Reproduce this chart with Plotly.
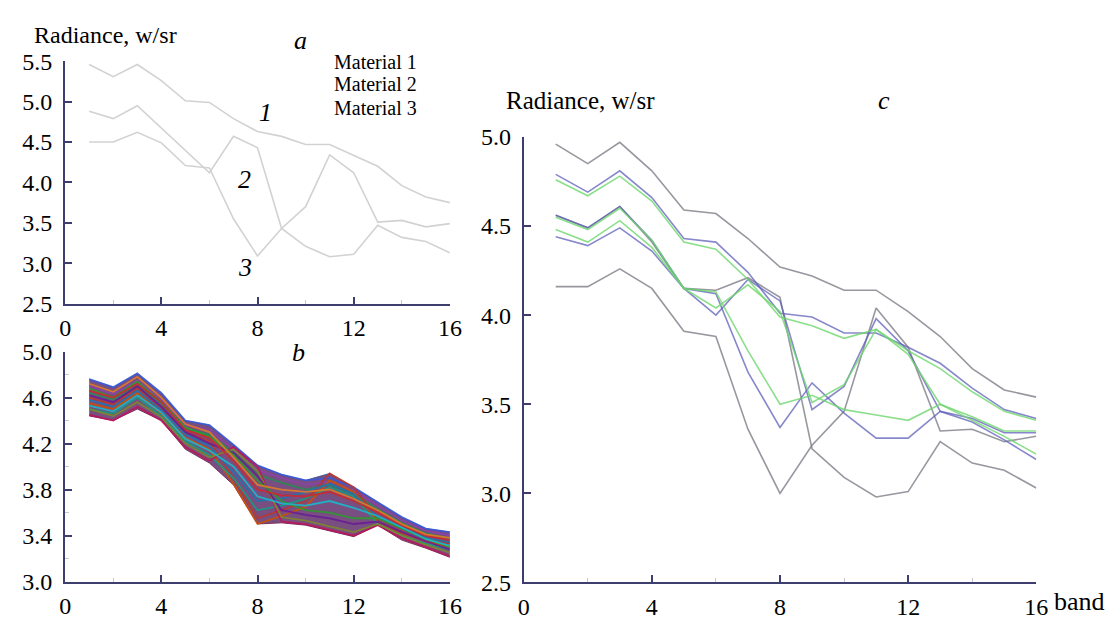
import plotly.graph_objects as go

# ---------------- data ----------------
bands = list(range(1, 17))
x_ticks = [0, 4, 8, 12, 16]
x_minor = [2, 6, 10, 14]
a_yticks = [2.5, 3.0, 3.5, 4.0, 4.5, 5.0, 5.5]
b_yticks = [3.0, 3.4, 3.8, 4.2, 4.6, 5.0]
b_yminor = [3.2, 3.6, 4.0, 4.4, 4.8]
c_yticks = [2.5, 3.0, 3.5, 4.0, 4.5, 5.0]

# panel a: three material spectra
a_material_1 = [5.46, 5.31, 5.46, 5.26, 5.01, 4.99, 4.79, 4.63, 4.57, 4.47, 4.47, 4.34, 4.20, 3.96, 3.82, 3.75]
a_material_2 = [4.88, 4.79, 4.95, 4.67, 4.39, 4.12, 4.57, 4.43, 3.43, 3.21, 3.08, 3.11, 3.47, 3.32, 3.27, 3.13]
a_material_3 = [4.50, 4.50, 4.62, 4.49, 4.21, 4.18, 3.55, 3.09, 3.43, 3.70, 4.34, 4.12, 3.51, 3.53, 3.45, 3.49]

# panel b: envelope of the pixel spectra and a set of individual spectra
b_upper = [4.76, 4.69, 4.81, 4.64, 4.40, 4.36, 4.19, 4.01, 3.93, 3.88, 3.94, 3.82, 3.69, 3.56, 3.46, 3.43]
b_lower = [4.44, 4.40, 4.50, 4.40, 4.15, 4.03, 3.84, 3.50, 3.51, 3.49, 3.44, 3.39, 3.49, 3.36, 3.29, 3.21]
b_spec_01 = [4.76, 4.69, 4.81, 4.64, 4.40, 4.36, 4.19, 4.01, 3.93, 3.88, 3.90, 3.82, 3.69, 3.56, 3.46, 3.43]
b_spec_02 = [4.70, 4.63, 4.75, 4.58, 4.36, 4.32, 4.15, 3.97, 3.90, 3.84, 3.87, 3.79, 3.66, 3.53, 3.44, 3.40]
b_spec_03 = [4.64, 4.58, 4.70, 4.55, 4.33, 4.28, 4.12, 3.93, 3.86, 3.80, 3.84, 3.76, 3.63, 3.51, 3.42, 3.37]
b_spec_04 = [4.60, 4.54, 4.68, 4.50, 4.30, 4.22, 3.90, 3.55, 3.62, 3.70, 3.94, 3.82, 3.55, 3.45, 3.38, 3.33]
b_spec_05 = [4.55, 4.50, 4.64, 4.46, 4.25, 4.15, 3.85, 3.50, 3.57, 3.65, 3.88, 3.78, 3.52, 3.42, 3.35, 3.30]
b_spec_06 = [4.50, 4.46, 4.60, 4.44, 4.22, 4.10, 3.90, 3.62, 3.66, 3.72, 3.82, 3.74, 3.50, 3.40, 3.33, 3.28]
b_spec_07 = [4.58, 4.52, 4.66, 4.49, 4.28, 4.18, 3.95, 3.70, 3.72, 3.78, 3.85, 3.76, 3.56, 3.46, 3.38, 3.34]
b_spec_08 = [4.45, 4.40, 4.52, 4.40, 4.17, 4.05, 4.17, 4.00, 3.52, 3.50, 3.45, 3.40, 3.49, 3.38, 3.30, 3.22]
b_spec_09 = [4.50, 4.44, 4.56, 4.43, 4.20, 4.08, 4.15, 3.96, 3.56, 3.53, 3.48, 3.43, 3.50, 3.40, 3.32, 3.25]
b_spec_10 = [4.62, 4.56, 4.70, 4.52, 4.30, 4.20, 4.12, 3.92, 3.62, 3.58, 3.55, 3.50, 3.52, 3.43, 3.35, 3.28]
b_spec_11 = [4.68, 4.60, 4.74, 4.56, 4.34, 4.26, 4.10, 3.88, 3.70, 3.62, 3.60, 3.55, 3.55, 3.46, 3.37, 3.30]
b_spec_12 = [4.66, 4.60, 4.72, 4.56, 4.32, 4.25, 4.05, 3.80, 3.75, 3.74, 3.78, 3.70, 3.60, 3.49, 3.40, 3.36]
b_spec_13 = [4.53, 4.48, 4.62, 4.47, 4.24, 4.14, 4.00, 3.74, 3.68, 3.66, 3.70, 3.64, 3.57, 3.47, 3.37, 3.31]
b_spec_14 = [4.72, 4.65, 4.78, 4.60, 4.37, 4.30, 4.08, 3.84, 3.80, 3.78, 3.80, 3.72, 3.62, 3.50, 3.41, 3.38]

# panel c: reference spectra (gray) and estimated spectra (blue, green)
c_gray_1 = [4.96, 4.85, 4.97, 4.81, 4.59, 4.57, 4.43, 4.27, 4.22, 4.14, 4.14, 4.02, 3.88, 3.70, 3.58, 3.54]
c_blue_1 = [4.79, 4.69, 4.81, 4.66, 4.43, 4.41, 4.24, 4.01, 3.99, 3.90, 3.90, 3.82, 3.73, 3.59, 3.47, 3.42]
c_green_1 = [4.76, 4.67, 4.78, 4.64, 4.41, 4.37, 4.20, 3.99, 3.94, 3.87, 3.92, 3.80, 3.70, 3.57, 3.46, 3.41]
c_gray_2 = [4.16, 4.16, 4.26, 4.15, 3.91, 3.88, 3.36, 3.00, 3.27, 3.46, 4.04, 3.82, 3.35, 3.36, 3.29, 3.32]
c_blue_2 = [4.44, 4.39, 4.49, 4.36, 4.15, 4.00, 4.20, 4.08, 3.47, 3.60, 3.98, 3.80, 3.46, 3.42, 3.34, 3.34]
c_green_2 = [4.48, 4.41, 4.53, 4.38, 4.15, 4.04, 4.17, 4.02, 3.51, 3.61, 3.92, 3.78, 3.50, 3.43, 3.35, 3.35]
c_gray_3 = [4.56, 4.49, 4.61, 4.41, 4.15, 4.14, 4.21, 4.10, 3.25, 3.09, 2.98, 3.01, 3.29, 3.17, 3.13, 3.03]
c_blue_3 = [4.56, 4.49, 4.61, 4.42, 4.15, 4.12, 3.68, 3.37, 3.62, 3.45, 3.31, 3.31, 3.46, 3.40, 3.30, 3.19]
c_green_3 = [4.55, 4.48, 4.60, 4.42, 4.15, 4.13, 3.80, 3.50, 3.55, 3.47, 3.44, 3.41, 3.50, 3.41, 3.32, 3.22]

# ---------------- figure ----------------
W, H = 1120, 621
FONT = "Liberation Serif, Times New Roman, DejaVu Serif, serif"
AX = "#3d3d6e"


def px(x):
    return x / W


def py(y):
    return 1 - y / H


fig = go.Figure()

# panel a
for s in [a_material_1, a_material_2, a_material_3]:
    fig.add_trace(go.Scatter(x=bands, y=s, mode="lines", xaxis="x", yaxis="y",
                             line=dict(color="#d2d2d2", width=1.6), hoverinfo="skip"))

# panel b
fig.add_trace(go.Scatter(x=bands, y=b_lower, mode="lines", xaxis="x2", yaxis="y2",
                         line=dict(color="rgba(120,40,80,0.9)", width=1), hoverinfo="skip"))
fig.add_trace(go.Scatter(x=bands, y=b_upper, mode="lines", xaxis="x2", yaxis="y2", fill="tonexty",
                         fillcolor="rgba(105,60,115,0.9)",
                         line=dict(color="rgba(60,90,150,0.9)", width=1), hoverinfo="skip"))
b_colors = ["#3b5bdb", "#8e44ad", "#2e8b57", "#c0392b", "#d35400", "#16a085", "#1f77b4",
            "#c2185b", "#7f8c2d", "#6a1b9a", "#2ca02c", "#d62728", "#17becf", "#e67e22"]
b_specs = [b_spec_01, b_spec_02, b_spec_03, b_spec_04, b_spec_05, b_spec_06, b_spec_07,
           b_spec_08, b_spec_09, b_spec_10, b_spec_11, b_spec_12, b_spec_13, b_spec_14]
for s, c in zip(b_specs, b_colors):
    fig.add_trace(go.Scatter(x=bands, y=s, mode="lines", xaxis="x2", yaxis="y2",
                             line=dict(color=c, width=1.8), opacity=0.85, hoverinfo="skip"))

# panel c
GRAY = "rgba(125,125,135,0.8)"
BLUE = "rgba(95,95,185,0.75)"
GREEN = "rgba(110,215,110,0.8)"
for s, c in [(c_gray_1, GRAY), (c_gray_2, GRAY), (c_gray_3, GRAY),
             (c_blue_1, BLUE), (c_blue_2, BLUE), (c_blue_3, BLUE),
             (c_green_1, GREEN), (c_green_2, GREEN), (c_green_3, GREEN)]:
    fig.add_trace(go.Scatter(x=bands, y=s, mode="lines", xaxis="x3", yaxis="y3",
                             line=dict(color=c, width=1.6), hoverinfo="skip"))

tickfont = dict(family=FONT, size=24, color="black")


def xax(domain, anchor):
    return dict(domain=domain, anchor=anchor, range=[0, 16], tickmode="array", tickvals=x_ticks,
                showline=True, linecolor=AX, linewidth=2, ticks="inside", ticklen=7, tickwidth=2,
                tickcolor=AX, showgrid=False, zeroline=False, tickfont=tickfont, ticklabelstandoff=2,
                minor=dict(tickmode="array", tickvals=x_minor, ticks="inside", ticklen=4,
                           tickcolor="#c8c8d4", tickwidth=1))


def yax(domain, anchor, rng, vals, minor=None):
    d = dict(domain=domain, anchor=anchor, range=rng, tickmode="array", tickvals=vals,
             tickformat=".1f", showline=True, linecolor=AX, linewidth=2, ticks="inside", ticklen=7,
             tickwidth=2, tickcolor=AX, showgrid=False, zeroline=False, tickfont=tickfont,
             ticklabelstandoff=6)
    if minor:
        d["minor"] = dict(tickmode="array", tickvals=minor, ticks="inside", ticklen=4,
                          tickcolor="#c8c8d4", tickwidth=1)
    return d


fig.update_layout(
    width=W, height=H, margin=dict(l=0, r=0, t=0, b=0),
    paper_bgcolor="white", plot_bgcolor="white", showlegend=False,
    xaxis=xax([px(52), px(443)], "y"),
    yaxis=yax([py(295), py(42)], "x", [2.5, 5.5], a_yticks),
    xaxis2=xax([px(52), px(443)], "y2"),
    yaxis2=yax([py(585), py(345)], "x2", [3.0, 5.0], b_yticks, b_yminor),
    xaxis3=xax([px(518), px(1039)], "y3"),
    yaxis3=yax([py(586), py(121)], "x3", [2.5, 5.0], c_yticks),
)

ann = []


def text(x, y, t, size=26, italic=False, xanchor="left"):
    ann.append(dict(x=px(x), y=py(y), xref="paper", yref="paper", text=t, showarrow=False,
                    xanchor=xanchor, yanchor="middle",
                    font=dict(family=FONT, size=size, color="black",
                              style="italic" if italic else "normal")))


text(18, 15, "Radiance, w/sr", size=24)
text(291, 20, "a", italic=True, xanchor="center")
text(323, 43, "Material 1", size=20)
text(323, 66, "Material 2", size=20)
text(323, 91, "Material 3", size=20)
text(256, 96, "1", italic=True, xanchor="center")
text(234, 165, "2", italic=True, xanchor="center")
text(235, 257, "3", italic=True, xanchor="center")
text(289, 346, "b", italic=True, xanchor="center")
text(498, 83, "Radiance, w/sr", size=25)
text(884, 83, "c", italic=True, xanchor="center")
text(1055, 606, "band")
fig.update_layout(annotations=ann)

fig.write_html("out.html")
